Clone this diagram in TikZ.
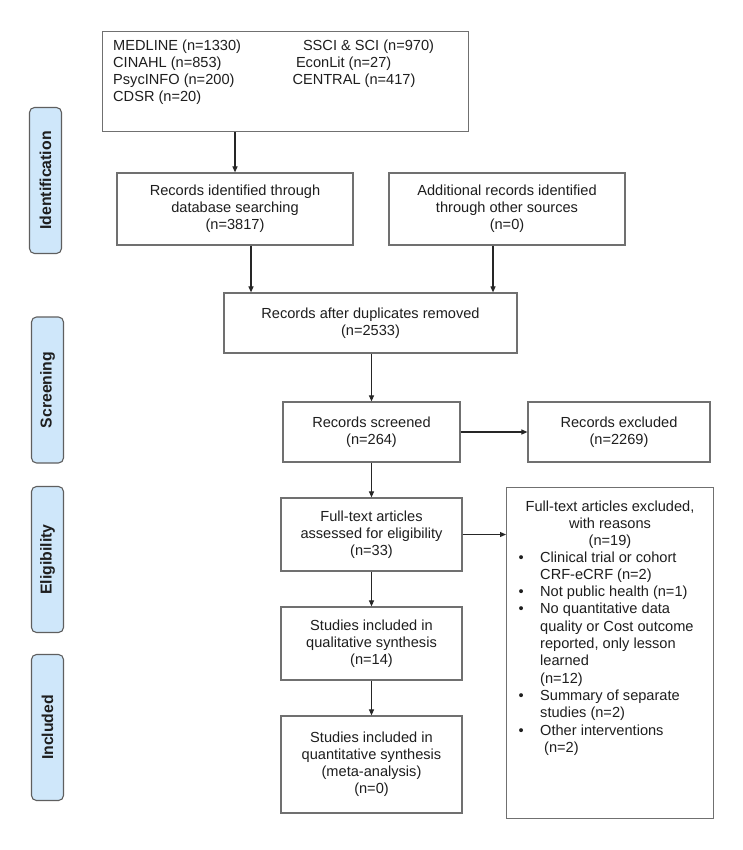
\documentclass[tikz,border=0pt]{standalone}
\usepackage{fontspec}
\setmainfont{Liberation Sans}
\usetikzlibrary{arrows.meta}
\definecolor{boxline}{RGB}{112,112,112}
\definecolor{lblfill}{RGB}{207,231,250}
\definecolor{lblline}{RGB}{95,95,95}
\definecolor{txt}{RGB}{30,30,30}
\begin{document}
\begin{tikzpicture}[x=1pt,y=-1pt,
  box/.style={draw=boxline, line width=1.2pt, fill=white, inner sep=2pt, align=center,
    font=\fontsize{14.6}{17}\selectfont, text=txt},
  plain/.style={inner sep=0pt, text=txt, font=\fontsize{14.6}{17}\selectfont},
  lbl/.style={draw=lblline, line width=1.1pt, fill=lblfill, rounded corners=5pt,
    minimum width=146pt, minimum height=32pt, inner sep=0pt, rotate=90,
    font=\fontsize{15.8}{18}\selectfont\bfseries, text=txt},
  arr/.style={-{Triangle[length=6pt,width=5pt]}, line width=1.1pt, draw=black!85}]
\useasboundingbox (0,0) rectangle (742,850);
\fill[white] (0,0) rectangle (742,850);

% phase labels
\node[lbl] (lid) at (45.5,180.5) {Identification};
\node[lbl] (lscr) at (47.5,390) {Screening};
\node[lbl] (lelig) at (47.5,559.5) {Eligibility};
\node[lbl] (linc) at (47.5,727.5) {Included};

% database source box
\node[box, anchor=north west, minimum width=366pt, minimum height=100pt] (src) at (102,31) {};
\node[plain, anchor=base west] (srcL) at (113,50.7) {\begin{tabular}[t]{@{}l@{}}MEDLINE (n=1330)\\CINAHL (n=853)\\PsycINFO (n=200)\\CDSR (n=20)\end{tabular}};
\node[plain, anchor=base west] (srcR) at (292.3,50.7) {\begin{tabular}[t]{@{}l@{}}\hspace*{10.5pt}SSCI \& SCI (n=970)\\\hspace*{3.5pt}EconLit (n=27)\\CENTRAL (n=417)\end{tabular}};

% flow boxes
\node[box, minimum width=236pt, minimum height=72pt] (db) at (235,209) {Records identified through\\database searching\\(n=3817)};
\node[box, minimum width=236pt, minimum height=72pt] (add) at (507,209) {Additional records identified\\through other sources\\(n=0)};
\node[box, minimum width=293pt, minimum height=60pt] (dup) at (370.5,323) {Records after duplicates removed\\(n=2533)};
\node[box, minimum width=177pt, minimum height=60pt] (scr) at (371.5,432) {Records screened\\(n=264)};
\node[box, minimum width=182pt, minimum height=60pt] (exc) at (619,432) {Records excluded\\(n=2269)};
\node[box, minimum width=181pt, minimum height=73pt] (ass) at (371.5,534.5) {Full-text articles\\assessed for eligibility\\(n=33)};
\node[box, minimum width=181pt, minimum height=73pt] (qual) at (371.5,643.5) {Studies included in\\qualitative synthesis\\(n=14)};
\node[box, minimum width=181pt, minimum height=97pt] (quant) at (371.5,764.5) {Studies included in\\quantitative synthesis\\(meta-analysis)\\(n=0)};

% reasons box
\node[box, anchor=north west, minimum width=207pt, minimum height=331pt] (reasons) at (506,487) {};
\node[plain, anchor=base, font=\fontsize{14.6}{17.3}\selectfont] (reasT) at (610,511) {\begin{tabular}[t]{@{}c@{}}Full-text articles excluded,\\with reasons\\(n=19)\end{tabular}};
\node[plain, anchor=base west, font=\fontsize{14.6}{17.3}\selectfont] (reasL) at (518.5,562) {\begin{tabular}[t]{@{}p{21.5pt}@{}l@{}}
\textbullet & Clinical trial or cohort\\
 & CRF-eCRF (n=2)\\
\textbullet & Not public health (n=1)\\
\textbullet & No quantitative data\\
 & quality or Cost outcome\\
 & reported, only lesson\\
 & learned\\
 & (n=12)\\
\textbullet & Summary of separate\\
 & studies (n=2)\\
\textbullet & Other interventions\\
 & \hspace*{4pt}(n=2)
\end{tabular}};

% connectors
\draw[arr] (db.north |- src.south) -- (db.north);
\draw[arr] ([xshift=16pt]db.south) -- ([xshift=16pt]db.south |- dup.north);
\draw[arr] ([xshift=-14pt]add.south) -- ([xshift=-14pt]add.south |- dup.north);
\draw[arr] (scr.north |- dup.south) -- (scr.north);
\draw[arr] (scr.east) -- (exc.west);
\draw[arr] (scr.south) -- (ass.north);
\draw[arr] (ass.east) -- (ass.east -| reasons.west);
\draw[arr] (ass.south) -- (qual.north);
\draw[arr] (qual.south) -- (quant.north);
\end{tikzpicture}
\end{document}
